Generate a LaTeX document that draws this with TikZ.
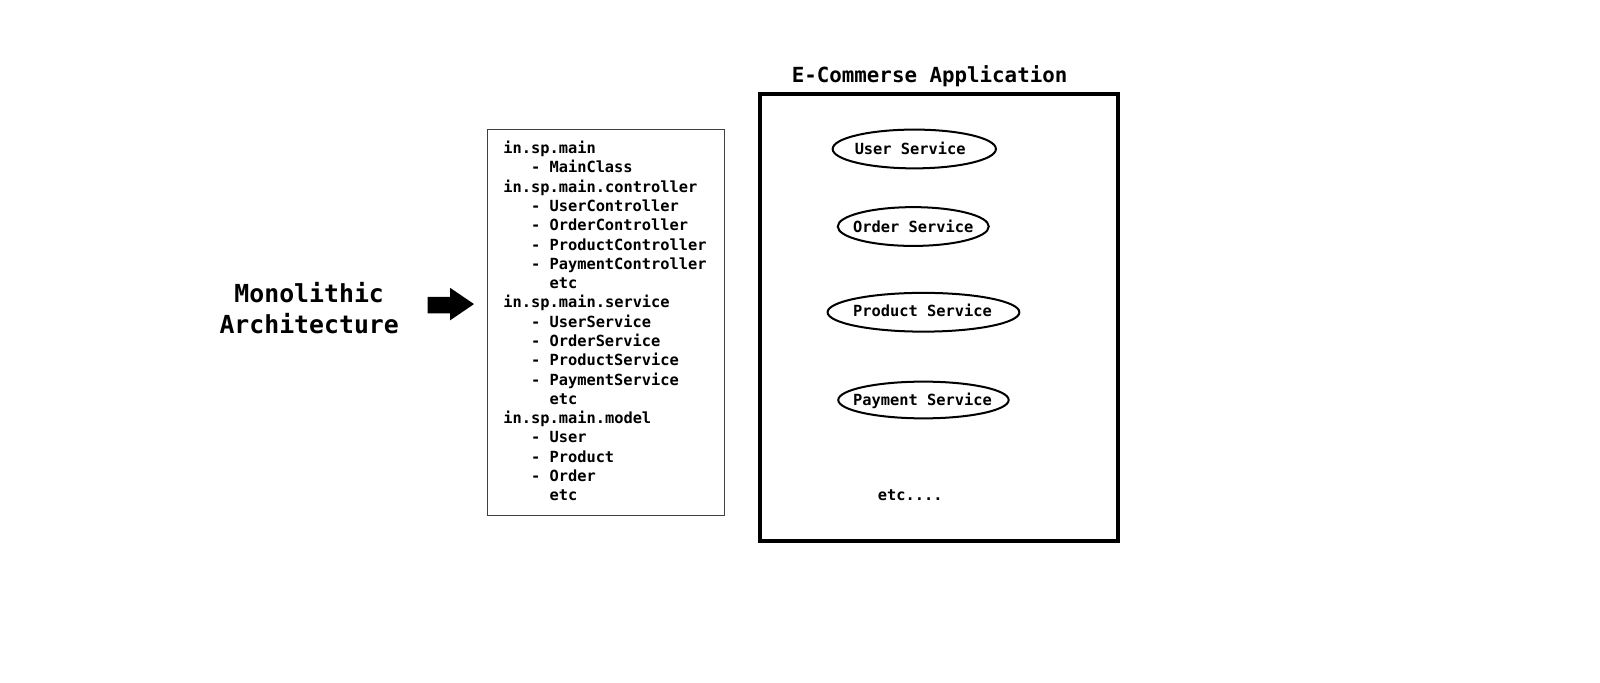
\documentclass[tikz,border=0pt]{standalone}
\usepackage{fontspec}
\setmonofont{DejaVu Sans Mono}
\usepackage{tikz}

\tikzset{
  code/.style={font=\ttfamily\bfseries\fontsize{10.7}{13}\selectfont,
    inner sep=0pt, text height=1.55ex, text depth=0.35ex},
  service/.style={draw, line width=1.4pt},
}

\begin{document}
\begin{tikzpicture}[x=0.025cm, y=-0.025cm]
  \useasboundingbox (0,0) rectangle (1568,669);

  % left title and arrow
  \node (mono) [align=center, font=\ttfamily\bfseries\fontsize{17.3}{22}\selectfont]
    at (303,302) {Monolithic\\Architecture};
  \fill (419,291) -- (441,291) -- (441,282) -- (464.5,298)
    -- (441,314) -- (441,307) -- (419,307) -- cycle;

  % package listing
  \draw [black!75, line width=0.6pt] (478,127) rectangle (710,505);
  \foreach \ind/\txt [count=\i] in {
      0/in.sp.main, 3/- MainClass,
      0/in.sp.main.controller, 3/- UserController, 3/- OrderController,
      3/- ProductController, 3/- PaymentController, 5/etc,
      0/in.sp.main.service, 3/- UserService, 3/- OrderService,
      3/- ProductService, 3/- PaymentService, 5/etc,
      0/in.sp.main.model, 3/- User, 3/- Product, 3/- Order, 5/etc}
    \node (pkg\i) [code, anchor=west] at (493+\ind*9.05, 147+\i*18.9-18.9) {\txt};

  % application box
  \draw [line width=2.8pt] (745,92) rectangle (1096,530);
  \node (apptitle) [font=\ttfamily\bfseries\fontsize{14.5}{17}\selectfont]
    at (911,75) {E-Commerse Application};

  \node (user) [code] at (892,148) {User Service};
  \draw [service] (896,146) ellipse [x radius=80, y radius=19];
  \node (order) [code] at (895,224) {Order Service};
  \draw [service] (895,222) ellipse [x radius=74, y radius=19];
  \node (product) [code] at (904,307) {Product Service};
  \draw [service] (905,306) ellipse [x radius=94, y radius=19];
  \node (payment) [code] at (904,394) {Payment Service};
  \draw [service] (905,392) ellipse [x radius=83.5, y radius=18];
  \node (more) [code] at (892,487) {etc....};
\end{tikzpicture}
\end{document}
